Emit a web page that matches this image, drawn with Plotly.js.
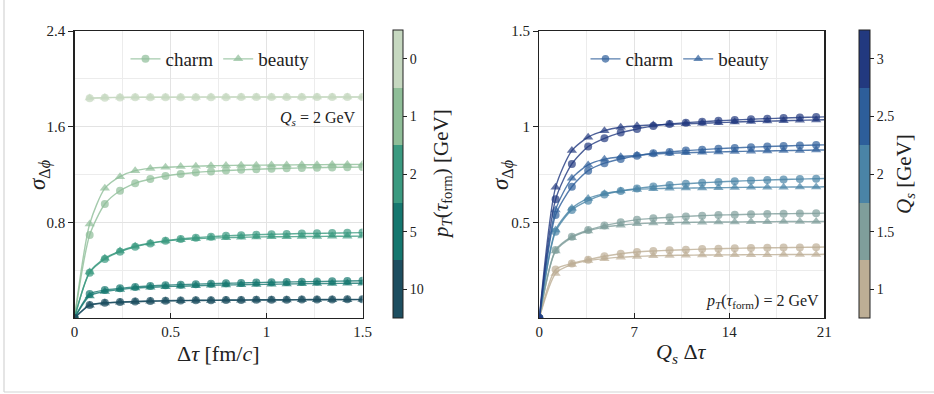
<!DOCTYPE html>
<html><head><meta charset="utf-8">
<script src="https://cdn.plot.ly/plotly-3.0.1.min.js"></script>
<style>html,body{margin:0;padding:0;background:#fff;}#plot{width:934px;height:394px;}</style>
</head><body><div id="plot"></div>
<script>
// ---------- data: left panel (Qs = 2 GeV) ----------
const tau = [0, 0.079, 0.158, 0.237, 0.316, 0.395, 0.474, 0.553, 0.632, 0.711, 0.789, 0.868, 0.947, 1.026, 1.105, 1.184, 1.263, 1.342, 1.421, 1.5];
const ptLabels = ["0", "1", "2", "5", "10"];
const ptCharm = [
  [null, 1.837, 1.842, 1.844, 1.845, 1.846, 1.846, 1.847, 1.847, 1.847, 1.847, 1.848, 1.848, 1.848, 1.848, 1.848, 1.848, 1.848, 1.848, 1.848],
  [0, 0.694, 0.953, 1.064, 1.126, 1.162, 1.187, 1.204, 1.217, 1.226, 1.233, 1.239, 1.244, 1.248, 1.252, 1.255, 1.257, 1.259, 1.261, 1.262],
  [0, 0.379, 0.493, 0.554, 0.596, 0.624, 0.647, 0.661, 0.672, 0.680, 0.687, 0.692, 0.697, 0.700, 0.703, 0.706, 0.708, 0.710, 0.712, 0.714],
  [0, 0.200, 0.234, 0.248, 0.260, 0.268, 0.274, 0.279, 0.283, 0.287, 0.290, 0.293, 0.296, 0.299, 0.301, 0.303, 0.305, 0.307, 0.309, 0.311],
  [0, 0.109, 0.128, 0.134, 0.138, 0.142, 0.145, 0.147, 0.148, 0.149, 0.150, 0.151, 0.152, 0.153, 0.153, 0.154, 0.155, 0.155, 0.156, 0.156]
];
const ptBeauty = [
  [null, 1.840, 1.844, 1.845, 1.846, 1.846, 1.847, 1.847, 1.847, 1.848, 1.848, 1.848, 1.848, 1.848, 1.848, 1.848, 1.848, 1.848, 1.848, 1.848],
  [0, 0.786, 1.084, 1.182, 1.232, 1.251, 1.260, 1.266, 1.270, 1.273, 1.275, 1.277, 1.278, 1.279, 1.280, 1.281, 1.282, 1.283, 1.284, 1.285],
  [0, 0.385, 0.500, 0.560, 0.600, 0.625, 0.643, 0.655, 0.663, 0.668, 0.672, 0.675, 0.677, 0.679, 0.680, 0.681, 0.682, 0.683, 0.684, 0.685],
  [0, 0.185, 0.222, 0.238, 0.250, 0.257, 0.262, 0.266, 0.270, 0.273, 0.276, 0.278, 0.280, 0.282, 0.284, 0.286, 0.288, 0.289, 0.290, 0.291],
  [0, 0.106, 0.125, 0.132, 0.136, 0.140, 0.142, 0.144, 0.146, 0.147, 0.148, 0.149, 0.150, 0.151, 0.151, 0.152, 0.152, 0.153, 0.153, 0.154]
];
const ptColors = ["#c6d8c0", "#8fbe98", "#3b9a80", "#15776f", "#1d4e60"];

// ---------- data: right panel (pT(tau_form) = 2 GeV) ----------
const qsTau = [0, 1.2, 2.4, 3.6, 4.8, 6.0, 7.2, 8.4, 9.6, 10.8, 12.0, 13.2, 14.4, 15.6, 16.8, 18.0, 19.2, 20.4, 21];
const qsLabels = ["1", "1.5", "2", "2.5", "3"];
const qsCharm = [
  [0, 0.254, 0.285, 0.305, 0.323, 0.336, 0.345, 0.350, 0.354, 0.357, 0.360, 0.362, 0.364, 0.366, 0.367, 0.368, 0.369, 0.370, 0.371],
  [0, 0.355, 0.425, 0.460, 0.483, 0.500, 0.514, 0.521, 0.526, 0.531, 0.535, 0.538, 0.540, 0.542, 0.544, 0.545, 0.546, 0.547, 0.548],
  [0, 0.451, 0.565, 0.613, 0.646, 0.664, 0.677, 0.687, 0.695, 0.702, 0.707, 0.711, 0.715, 0.718, 0.721, 0.724, 0.726, 0.728, 0.729],
  [0, 0.538, 0.686, 0.770, 0.809, 0.831, 0.848, 0.861, 0.868, 0.875, 0.880, 0.885, 0.889, 0.893, 0.896, 0.899, 0.902, 0.904, 0.905],
  [0, 0.620, 0.805, 0.896, 0.939, 0.969, 0.988, 1.004, 1.014, 1.021, 1.026, 1.031, 1.035, 1.039, 1.042, 1.045, 1.048, 1.050, 1.051]
];
const qsBeauty = [
  [0, 0.233, 0.280, 0.300, 0.310, 0.318, 0.322, 0.325, 0.327, 0.328, 0.329, 0.330, 0.330, 0.331, 0.331, 0.332, 0.332, 0.332, 0.333],
  [0, 0.350, 0.420, 0.455, 0.475, 0.485, 0.492, 0.496, 0.498, 0.500, 0.501, 0.502, 0.502, 0.503, 0.503, 0.504, 0.504, 0.504, 0.505],
  [0, 0.460, 0.573, 0.625, 0.650, 0.664, 0.672, 0.676, 0.678, 0.679, 0.680, 0.681, 0.682, 0.683, 0.684, 0.684, 0.685, 0.685, 0.686],
  [0, 0.565, 0.730, 0.800, 0.830, 0.843, 0.850, 0.857, 0.861, 0.864, 0.866, 0.868, 0.870, 0.872, 0.873, 0.875, 0.876, 0.878, 0.878],
  [0, 0.683, 0.875, 0.945, 0.979, 0.997, 1.005, 1.009, 1.012, 1.015, 1.018, 1.021, 1.024, 1.027, 1.029, 1.031, 1.033, 1.035, 1.036]
];
const qsColors = ["#bdae95", "#7f9e9b", "#4a84a6", "#2d5e9a", "#22397f"];

// ---------- build ----------
const W = 934, H = 394;
const px = v => v / W, py = v => 1 - v / H;
const FONT = "Liberation Serif, DejaVu Serif, serif";

function hexA(hex, a) {
  const r = parseInt(hex.slice(1,3),16), g = parseInt(hex.slice(3,5),16), b = parseInt(hex.slice(5,7),16);
  return `rgba(${r},${g},${b},${a})`;
}

const traces = [];
function addSeries(xs, ys, color, symbol, name, xa, ya, legendName, showLeg, markerMaxX) {
  traces.push({
    type: "scatter", mode: "lines+markers", x: xs, y: ys, xaxis: xa, yaxis: ya,
    name: name, showlegend: showLeg, legend: legendName,
    line: {color: hexA(color, 0.8), width: 1.4, shape: "spline", smoothing: 0.7},
    marker: {symbol: symbol, color: color, size: xs.map(v => v > markerMaxX ? 0 : (symbol === "circle" ? 8 : 9)), line: {width: 0}},
    cliponaxis: true, hoverinfo: "skip"
  });
}
for (let i = 0; i < ptLabels.length; i++) {
  addSeries(tau, ptCharm[i], ptColors[i], "circle", "charm", "x", "y", "legend", i === 1, 99);
  addSeries(tau, ptBeauty[i], ptColors[i], "triangle-up", "beauty", "x", "y", "legend", i === 1, 99);
}
for (let i = 0; i < qsLabels.length; i++) {
  addSeries(qsTau, qsCharm[i], qsColors[i], "circle", "charm", "x2", "y2", "legend2", i === 3, 20.5);
  addSeries(qsTau, qsBeauty[i], qsColors[i], "triangle-up", "beauty", "x2", "y2", "legend2", i === 3, 20.5);
}

function stepScale(cols) {
  const n = cols.length, s = [];
  cols.forEach((c, i) => { s.push([i / n, c]); s.push([(i + 1) / n, c]); });
  return s;
}
// colorbars (left: lightest on top)
const ptColsBottomUp = ptColors.slice().reverse();
const ptLabelsBottomUp = ptLabels.slice().reverse();
traces.push({
  type: "scatter", mode: "markers", x: [null], y: [null], xaxis: "x", yaxis: "y", showlegend: false, hoverinfo: "skip",
  marker: {color: [0], cmin: 0, cmax: ptLabels.length, colorscale: stepScale(ptColsBottomUp), showscale: true,
    colorbar: {x: px(393), xanchor: "left", y: py(174), yanchor: "middle", lenmode: "pixels", len: 288,
      thickness: 10, thicknessmode: "pixels", xpad: 0, ypad: 0, outlinewidth: 1, outlinecolor: "#222",
      tickmode: "array", tickvals: ptLabelsBottomUp.map((_, i) => i + 0.5), ticktext: ptLabelsBottomUp,
      ticks: "outside", ticklen: 4, tickcolor: "#222", tickfont: {family: FONT, size: 14, color: "#222"}}}
});
traces.push({
  type: "scatter", mode: "markers", x: [null], y: [null], xaxis: "x2", yaxis: "y2", showlegend: false, hoverinfo: "skip",
  marker: {color: [0], cmin: 0, cmax: qsLabels.length, colorscale: stepScale(qsColors), showscale: true,
    colorbar: {x: px(859), xanchor: "left", y: py(174), yanchor: "middle", lenmode: "pixels", len: 288,
      thickness: 11, thicknessmode: "pixels", xpad: 0, ypad: 0, outlinewidth: 1, outlinecolor: "#222",
      tickmode: "array", tickvals: qsLabels.map((_, i) => i + 0.5), ticktext: qsLabels,
      ticks: "outside", ticklen: 4, tickcolor: "#222", tickfont: {family: FONT, size: 14, color: "#222"}}}
});

function axis(domain, range, tickvals, minorvals, anchor, isX) {
  return {
    domain: domain, range: range, anchor: anchor, autorange: false, fixedrange: true,
    tickmode: "array", tickvals: tickvals, ticktext: tickvals.map(String),
    ticks: isX ? "inside" : "outside", ticklen: 5, tickcolor: "#222",
    showline: true, linecolor: "#222", linewidth: 1.2, mirror: true,
    showgrid: true, gridcolor: "#e3e3e3", gridwidth: 1, zeroline: false,
    tickfont: {family: FONT, size: 15, color: "#222"}, automargin: false,
    minor: {tickmode: "array", tickvals: minorvals, showgrid: true, gridcolor: "#ececec", ticks: ""}
  };
}

function ann(x, y, text, size, angle, xanchor) {
  return {xref: "paper", yref: "paper", x: px(x), y: py(y), text: text, showarrow: false,
    xanchor: xanchor || "center", yanchor: "middle", textangle: angle || 0,
    font: {family: FONT, size: size, color: "#222"}};
}

const layout = {
  width: W, height: H, margin: {l: 0, r: 0, t: 0, b: 0}, paper_bgcolor: "#fff", plot_bgcolor: "#fff",
  font: {family: FONT, color: "#222"},
  xaxis: axis([px(74.5), px(362.5)], [0, 1.5], [0, 0.5, 1, 1.5], [0.25, 0.75, 1.25], "y", true),
  yaxis: axis([py(318), py(31)], [0, 2.4], [0.8, 1.6, 2.4], [0.4, 1.2, 2.0], "x", false),
  xaxis2: axis([px(539.3), px(824.3)], [0, 21], [0, 7, 14, 21], [3.5, 10.5, 17.5], "y2", true),
  yaxis2: axis([py(318), py(31)], [0, 1.5], [0.5, 1, 1.5], [0.25, 0.75, 1.25], "x2", false),
  legend: {x: px(220), y: py(59), xanchor: "center", yanchor: "middle", orientation: "h", bgcolor: "rgba(0,0,0,0)",
    font: {family: FONT, size: 19, color: "#222"}, itemwidth: 30, tracegroupgap: 0},
  legend2: {x: px(680), y: py(59), xanchor: "center", yanchor: "middle", orientation: "h", bgcolor: "rgba(0,0,0,0)",
    font: {family: FONT, size: 19, color: "#222"}, itemwidth: 30, tracegroupgap: 0},
  shapes: [
    {type: "line", xref: "paper", yref: "paper", x0: px(4), x1: px(4), y0: py(392), y1: 1, line: {color: "#d4d4d4", width: 1.2}},
    {type: "line", xref: "paper", yref: "paper", x0: px(4), x1: px(934), y0: py(392), y1: py(392), line: {color: "#d4d4d4", width: 1.2}}
  ],
  annotations: [
    ann(218, 353, "Δ<i>τ</i> [fm/<i>c</i>]", 22),
    ann(681, 353, "<i>Q</i><sub><i>s</i></sub> Δ<i>τ</i>", 22),
    ann(40, 175, "<i>σ</i><sub>Δ<i>ϕ</i></sub>", 23, -90),
    ann(503, 175, "<i>σ</i><sub>Δ<i>ϕ</i></sub>", 23, -90),
    ann(442, 174, "<i>p</i><sub><i>T</i></sub>(<i>τ</i><sub>form</sub>) [GeV]", 21, -90),
    ann(905, 174, "<i>Q</i><sub><i>s</i></sub> [GeV]", 21, -90),
    ann(358, 119, "<i>Q</i><sub><i>s</i></sub> = 2 GeV", 16, 0, "right"),
    ann(821, 301, "<i>p</i><sub><i>T</i></sub>(<i>τ</i><sub>form</sub>) = 2 GeV", 16, 0, "right")
  ]
};

Plotly.newPlot("plot", traces, layout, {displayModeBar: false, staticPlot: true});
</script>
</body></html>
